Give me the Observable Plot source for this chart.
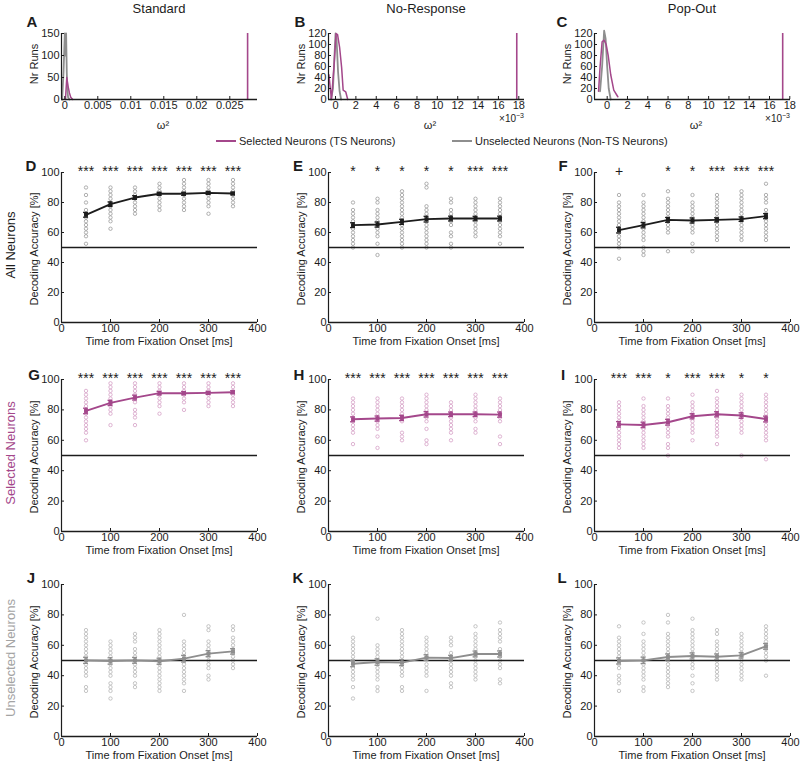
<!DOCTYPE html>
<html><head><meta charset="utf-8">
<script src="https://cdn.jsdelivr.net/npm/d3@7"></script>
<script src="https://cdn.jsdelivr.net/npm/@observablehq/plot@0.6"></script>
<style>
body{margin:0;background:#fff;}
#fig{position:relative;width:800px;height:764px;font-family:"Liberation Sans",Arial,sans-serif;color:#222;overflow:hidden;background:#fff}
.lbl{position:absolute;white-space:nowrap;line-height:1;}
</style></head><body><div id="fig"></div><script>
// ---------- data ----------
const times = [50,100,150,200,250,300,350];
const timeTicks = [0,100,200,300,400];
const accTicks = [0,20,40,60,80,100];
const colTitles = ["Standard","No-Response","Pop-Out"];
const rowTitles = ["All Neurons","Selected Neurons","Unselected Neurons"];
const legendLabels = ["Selected Neurons (TS Neurons)","Unselected Neurons (Non-TS Neurons)"];

// histograms (A: omega^2, B/C: omega^2 in units of 1e-3)
const histATicks = [0,0.005,0.01,0.015,0.02,0.025];
const histBCTicks = [0,2,4,6,8,10,12,14,16,18];
const histAYTicks = [0,50,100,150];
const histBCYTicks = [0,20,40,60,80,100,120];
const histAGrayX = [-0.0004,-0.0002,0,0.0001,0.0002,0.0003,0.0004,0.0005,0.0007];
const histAGrayY = [0,60,150,100,150,60,20,5,0];
const histAMagX = [0.0001,0.0003,0.0005,0.0007,0.0009,0.0012];
const histAMagY = [0,50,30,15,5,0];
const histAObs = 0.0277;
const histBGrayX = [-0.45,-0.25,-0.1,0,0.1,0.25,0.4,0.55];
const histBGrayY = [0,20,80,120,110,50,15,0];
const histBMagX = [-0.65,-0.4,-0.15,0.05,0.2,0.4,0.6,0.75,1.0,1.2];
const histBMagY = [45,0,60,120,118,95,58,17,14,0];
const histBObs = 17.8;
const histCGrayX = [-0.7,-0.5,-0.3,-0.15,0,0.15,0.35];
const histCGrayY = [15,60,125,110,60,20,0];
const histCMagX = [-0.85,-0.7,-0.5,-0.3,-0.1,0.1,0.35,0.65,1.05];
const histCMagY = [15,60,105,108,100,80,45,17,5];
const histCObs = 17.3;

// D: all neurons, standard
const meanD = [71.8,78.9,83.3,85.8,85.8,86.4,86.0];
const semD = [1.6,1.5,1.2,1.0,1.0,1.0,0.9];
const starsD = ["***","***","***","***","***","***","***"];
const dotsD = [
  [90,85,80,75,72.5,70,67.5,65,62.5,60,57.5,52.5],
  [90,87.5,85,82.5,80,77.5,75,72.5,70,67.5,62.5],
  [90,87.5,85,82.5,80,77.5,75,72.5],
  [92.5,90,87.5,85,82.5,80,77.5,75],
  [95,92.5,90,87.5,85,82.5,80,77.5,75],
  [95,92.5,90,87.5,85,82.5,80,77.5,72.5],
  [95,92.5,90,87.5,85,82.5,80,77.5]];
// E: all neurons, no-response
const meanE = [64.9,65.3,67.1,68.9,69.3,69.3,69.3];
const semE = [1.6,1.7,1.7,1.9,1.6,1.5,1.6];
const starsE = ["*","*","*","*","*","***","***"];
const dotsE = [
  [80,75,72.5,70,67.5,65,62.5,60,57.5,55,52.5,50],
  [82.5,80,75,72.5,70,67.5,65,62.5,60,57.5,52.5,45],
  [87.5,85,82.5,80,77.5,75,72.5,70,67.5,65,62.5,60,57.5,55,52.5,50],
  [92.5,90,77.5,75,72.5,70,67.5,65,62.5,60,57.5,55,52.5,50],
  [82.5,80,75,72.5,70,67.5,65,60,57.5,52.5,50],
  [82.5,80,77.5,75,72.5,70,67.5,65,62.5,60,57.5],
  [82.5,80,77.5,75,72.5,70,67.5,65,62.5,60,57.5,52.5]];
// F: all neurons, pop-out
const meanF = [61.6,64.9,68.4,68.0,68.4,68.9,70.9];
const semF = [1.9,1.8,1.6,1.7,1.4,1.5,1.7];
const starsF = ["+","","*","*","***","***","***"];
const dotsF = [
  [85,80,77.5,75,72.5,70,67.5,65,62.5,60,57.5,55,52.5,50,42.5],
  [85,80,77.5,75,72.5,70,67.5,65,62.5,60,57.5,55,50,47.5,45],
  [87.5,82.5,80,77.5,75,72.5,70,67.5,65,62.5,60,47.5],
  [85,80,77.5,75,72.5,70,67.5,65,62.5,60,52.5,47.5],
  [85,82.5,80,77.5,75,72.5,70,67.5,65,62.5,60,57.5,55],
  [87.5,85,82.5,80,77.5,75,72.5,70,67.5,65,62.5,60,57.5,55],
  [92.5,85,82.5,80,75,72.5,70,67.5,65,62.5,60,57.5,55]];
// G: selected, standard
const meanG = [79.3,84.6,88.1,91.0,91.0,91.2,91.6];
const semG = [1.8,1.7,1.6,1.2,1.1,1.0,1.0];
const starsG = ["***","***","***","***","***","***","***"];
const dotsG = [
  [92.5,90,87.5,85,82.5,80,77.5,75,72.5,70,67.5,65,60],
  [97.5,95,92.5,90,87.5,85,82.5,80,77.5,70],
  [97.5,95,92.5,90,87.5,85,80,77.5,75,70],
  [97.5,95,92.5,90,87.5,85,82.5,77.5],
  [97.5,95,92.5,90,87.5,85,80],
  [97.5,95,92.5,90,87.5,85,82.5],
  [97.5,95,92.5,90,87.5,85,82.5]];
// H: selected, no-response
const meanH = [73.8,74.3,74.7,77.1,77.1,77.1,76.9];
const semH = [1.6,1.7,1.7,1.8,1.5,1.5,1.7];
const starsH = ["***","***","***","***","***","***","***"];
const dotsH = [
  [87.5,85,82.5,80,77.5,75,72.5,70,67.5,65,57.5],
  [87.5,85,82.5,80,77.5,75,72.5,70,67.5,62.5,55],
  [87.5,85,82.5,80,77.5,75,72.5,65,62.5,60],
  [90,87.5,85,82.5,80,77.5,75,72.5,67.5,60,57.5],
  [85,82.5,80,77.5,75,72.5,70,67.5,65,60],
  [90,87.5,85,82.5,80,77.5,75,72.5,67.5,65],
  [87.5,85,82.5,80,77.5,75,72.5,62.5,57.5]];
// I: selected, pop-out
const meanI = [70.5,70.1,71.9,75.8,77.1,76.3,74.0];
const semI = [1.8,1.8,1.9,1.7,1.7,1.8,1.9];
const starsI = ["***","***","*","***","***","*","*"];
const dotsI = [
  [85,82.5,80,77.5,75,72.5,70,67.5,65,62.5,60,57.5,55],
  [87.5,82.5,80,77.5,75,72.5,70,67.5,65,62.5,60,57.5,55],
  [87.5,82.5,80,77.5,75,72.5,70,67.5,65,62.5,57.5,55,50],
  [90,85,82.5,80,77.5,75,72.5,70,67.5,65,60],
  [92.5,87.5,85,82.5,80,77.5,75,72.5,70,67.5,65,62.5,57.5],
  [90,87.5,85,82.5,80,77.5,75,72.5,70,67.5,65,50],
  [90,87.5,85,82.5,80,77.5,75,72.5,70,67.5,65,62.5,60,47.5]];
// J: unselected, standard
const meanJ = [50.1,49.7,50.1,49.5,51.2,54.5,56.0];
const semJ = [2.0,2.1,1.9,2.0,2.2,2.0,1.8];
const starsJ = ["","","","","","",""];
const dotsJ = [
  [70,67.5,65,62.5,60,57.5,55,52.5,50,47.5,45,42.5,40,32.5,30],
  [62.5,60,57.5,55,52.5,50,47.5,45,42.5,40,35,32.5,30,25],
  [67.5,65,62.5,57.5,55,52.5,50,47.5,45,42.5,40,35,32.5],
  [70,67.5,65,62.5,60,57.5,55,52.5,50,47.5,45,42.5,40,37.5,35,32.5,30],
  [80,62.5,60,57.5,55,52.5,50,47.5,45,42.5,40,37.5,35,30],
  [72.5,70,62.5,60,57.5,55,52.5,50,47.5,45,40,37.5],
  [72.5,70,65,62.5,60,57.5,55,52.5,50,47.5,45]];
// K: unselected, no-response
const meanK = [47.9,49.0,48.6,51.9,51.6,54.3,54.3];
const semK = [2.0,2.1,2.0,1.9,1.8,1.9,2.0];
const starsK = ["","","","","","",""];
const dotsK = [
  [65,62.5,60,57.5,55,52.5,50,47.5,45,42.5,40,37.5,32.5,25],
  [77.5,60,57.5,55,52.5,50,47.5,45,42.5,40,37.5,32.5,30],
  [70,67.5,65,62.5,60,57.5,55,52.5,50,47.5,45,42.5,40,32.5,30],
  [65,62.5,60,57.5,55,52.5,47.5,45,42.5,40,30],
  [65,62.5,60,55,52.5,50,47.5,45,42.5,40,35,32.5],
  [72.5,67.5,65,62.5,60,57.5,55,52.5,50,47.5,45,42.5,40,37.5],
  [75,70,67.5,65,62.5,57.5,55,52.5,50,47.5,45,37.5,35]];
// L: unselected, pop-out
const meanL = [49.7,50.1,52.3,53.0,52.5,53.4,59.3];
const semL = [2.0,2.1,2.0,2.0,1.8,1.8,1.9];
const starsL = ["","","","","","",""];
const dotsL = [
  [72.5,65,62.5,60,57.5,55,52.5,50,47.5,45,40,37.5,35,30],
  [75,67.5,62.5,60,57.5,55,52.5,50,47.5,45,42.5,40,37.5,32.5,30],
  [80,75,67.5,65,62.5,60,57.5,55,52.5,50,47.5,45,42.5,40,37.5,35,32.5],
  [77.5,70,67.5,65,62.5,60,57.5,55,52.5,50,47.5,45,40,35,30],
  [70,67.5,62.5,60,57.5,55,52.5,50,47.5,45,42.5,40,37.5],
  [67.5,65,62.5,60,57.5,55,52.5,50,47.5,45,42.5,40,37.5],
  [72.5,70,67.5,65,62.5,60,57.5,55,52.5,50,40]];

// ---------- styles ----------
const MAG = "#a4478b", MAG_LIGHT = "#d6a1c6";
const GRAY = "#8e8e8e", GRAY_LIGHT = "#b6b6b6", DOT_DARK = "#9c9c9c";
const INK = "#1c1c1c";
const FONT = "Liberation Sans, Arial, sans-serif";
const fig = document.getElementById("fig");

const colLeft = [61, 328, 594];
const PW = 196;

function label(txt, x, y, o = {}) {
  const d = document.createElement("div");
  d.className = "lbl";
  if (o.html) d.innerHTML = txt; else d.textContent = txt;
  d.style.left = x + "px"; d.style.top = y + "px";
  d.style.fontSize = (o.size || 11) + "px";
  d.style.color = o.color || INK;
  if (o.bold) d.style.fontWeight = "bold";
  const tx = o.anchor === "start" ? "0" : o.anchor === "end" ? "-100%" : "-50%";
  d.style.transform = `translate(${tx},-50%)` + (o.rotate ? ` rotate(${o.rotate}deg)` : "");
  fig.appendChild(d);
}

function place(svg, left, top, mL, mT) {
  svg.style.position = "absolute";
  svg.style.left = (left - mL) + "px";
  svg.style.top = (top - mT) + "px";
  fig.appendChild(svg);
}

const baseStyle = {fontFamily: FONT, fontSize: "11px", color: INK, background: "transparent", overflow: "visible"};

function histPanel(left, xDomain, xTicks, yMax, yTicks, grayX, grayY, magX, magY, obs) {
  const mL = 40, mR = 12, mT = 10, mB = 24, top = 33, h = 66;
  const gray = grayX.map((x, i) => ({x, y: grayY[i]}));
  const mag = magX.map((x, i) => ({x, y: magY[i]}));
  const svg = Plot.plot({
    width: mL + PW + mR, height: mT + h + mB,
    marginLeft: mL, marginRight: mR, marginTop: mT, marginBottom: mB,
    style: baseStyle,
    x: {domain: xDomain, label: null},
    y: {domain: [0, yMax], label: null},
    marks: [
      Plot.line(gray, {x: "x", y: "y", stroke: GRAY, strokeWidth: 1.8}),
      Plot.line(mag, {x: "x", y: "y", stroke: MAG, strokeWidth: 1.5}),
      Plot.ruleX([obs], {y1: 0, y2: yMax, stroke: MAG, strokeWidth: 1.6}),
      Plot.ruleX([xDomain[0]], {stroke: INK, strokeWidth: 1.2}),
      Plot.ruleY([0], {stroke: INK, strokeWidth: 1.4}),
      Plot.axisX(xTicks, {tickSize: -3, tickPadding: 5, fontSize: 11, tickFormat: d => String(d)}),
      Plot.axisY(yTicks, {tickSize: -3, tickPadding: 5, fontSize: 11, tickFormat: d => String(d)})
    ]
  });
  place(svg, left, top, mL, mT);
}

function accPanel(left, top, h, mean, sem, stars, dots, lineColor, dotColor) {
  const mL = 40, mR = 14, mT = 22, mB = 26;
  const pts = times.flatMap((t, i) => dots[i].map(v => ({t, v})));
  const mk = times.map((t, i) => ({t, m: mean[i], lo: mean[i] - sem[i], hi: mean[i] + sem[i], s: stars[i]}));
  const svg = Plot.plot({
    width: mL + PW + mR, height: mT + h + mB,
    marginLeft: mL, marginRight: mR, marginTop: mT, marginBottom: mB,
    style: baseStyle,
    x: {domain: [0, 400], label: null},
    y: {domain: [0, 100], label: null},
    marks: [
      Plot.dot(pts, {x: "t", y: "v", r: 1.7, stroke: dotColor, strokeWidth: 0.8, fill: "none"}),
      Plot.ruleY([50], {stroke: INK, strokeWidth: 1.6}),
      Plot.ruleX(mk, {x: "t", y1: "lo", y2: "hi", stroke: lineColor, strokeWidth: 1.3}),
      Plot.ruleY(mk, {y: "hi", x1: d => d.t - 5, x2: d => d.t + 5, stroke: lineColor, strokeWidth: 1.3}),
      Plot.ruleY(mk, {y: "lo", x1: d => d.t - 5, x2: d => d.t + 5, stroke: lineColor, strokeWidth: 1.3}),
      Plot.line(mk, {x: "t", y: "m", stroke: lineColor, strokeWidth: 1.9}),
      Plot.dot(mk, {x: "t", y: "m", symbol: "square", r: 2.2, fill: lineColor}),
      Plot.text(mk, {x: "t", y: 100, text: "s", dy: -1, fontSize: 14, fill: INK}),
      Plot.ruleX([0], {stroke: INK, strokeWidth: 1.2}),
      Plot.ruleY([0], {stroke: INK, strokeWidth: 1.4}),
      Plot.axisX(timeTicks, {tickSize: -3, tickPadding: 5, fontSize: 11, tickFormat: d => String(d)}),
      Plot.axisY(accTicks, {tickSize: -3, tickPadding: 5, fontSize: 11, tickFormat: d => String(d)})
    ]
  });
  place(svg, left, top, mL, mT);
}

// ---------- top row: histograms ----------
histPanel(colLeft[0], [-0.0005, 0.0292], histATicks, 150, histAYTicks, histAGrayX, histAGrayY, histAMagX, histAMagY, histAObs);
histPanel(colLeft[1], [-0.69, 18.56], histBCTicks, 120, histBCYTicks, histBGrayX, histBGrayY, histBMagX, histBMagY, histBObs);
histPanel(colLeft[2], [-1.25, 18.07], histBCTicks, 120, histBCYTicks, histCGrayX, histCGrayY, histCMagX, histCMagY, histCObs);

// ---------- accuracy panels ----------
const rowTop = [172, 379, 584];
const rowH = [150, 152, 152];
const panels = [
  [meanD, semD, starsD, dotsD, INK, DOT_DARK],
  [meanE, semE, starsE, dotsE, INK, DOT_DARK],
  [meanF, semF, starsF, dotsF, INK, DOT_DARK],
  [meanG, semG, starsG, dotsG, MAG, MAG_LIGHT],
  [meanH, semH, starsH, dotsH, MAG, MAG_LIGHT],
  [meanI, semI, starsI, dotsI, MAG, MAG_LIGHT],
  [meanJ, semJ, starsJ, dotsJ, GRAY, GRAY_LIGHT],
  [meanK, semK, starsK, dotsK, GRAY, GRAY_LIGHT],
  [meanL, semL, starsL, dotsL, GRAY, GRAY_LIGHT]];
panels.forEach((p, k) => {
  const r = Math.floor(k / 3), c = k % 3;
  accPanel(colLeft[c], rowTop[r], rowH[r], ...p);
});

// ---------- text ----------
const colCenter = colLeft.map(l => l + PW / 2);
colTitles.forEach((t, i) => label(t, colCenter[i], 8, {size: 13}));
const letters = [["A",32,21],["B",300,21],["C",562,21],["D",31,165],["E",298,165],["F",563,165],
  ["G",34,374],["H",299,374],["I",563,374],["J",31,577],["K",298,577],["L",562,577]];
letters.forEach(([t, x, y]) => label(t, x, y, {size: 15, bold: true}));
// histogram axis titles
const yTitleX = [34, 301, 567];
colCenter.forEach((cx, i) => {
  label("Nr Runs", yTitleX[i], 64, {size: 11, rotate: -90});
  label("ω²", cx + 4, 125, {size: 11});
});
label("×10<sup style='font-size:7px;vertical-align:4px'>−3</sup>", colLeft[1] + PW, 118, {size: 10, html: true, anchor: "end"});
label("×10<sup style='font-size:7px;vertical-align:4px'>−3</sup>", colLeft[2] + PW, 118, {size: 10, html: true, anchor: "end"});
// legend
function legendItem(x, y, color, txt) {
  const ln = document.createElement("div");
  ln.style.cssText = `position:absolute;left:${x}px;top:${y - 1}px;width:20px;height:0;border-top:2px solid ${color}`;
  fig.appendChild(ln);
  label(txt, x + 23, y, {size: 11, anchor: "start"});
}
legendItem(216, 141, MAG, legendLabels[0]);
legendItem(452, 141, GRAY, legendLabels[1]);
// accuracy axis titles
rowTop.forEach((t, r) => {
  colCenter.forEach((cx, c) => {
    label("Decoding Accuracy [%]", yTitleX[c], t + rowH[r] / 2 + 2, {size: 11, rotate: -90});
    label("Time from Fixation Onset [ms]", cx, t + rowH[r] + 19, {size: 11});
  });
});
// row titles
const rowColors = [INK, MAG, "#a3a3a3"];
rowTitles.forEach((t, r) => label(t, 10, rowTop[r] + rowH[r] / 2 - 2, {size: 13, rotate: -90, color: rowColors[r]}));
</script></body></html>
